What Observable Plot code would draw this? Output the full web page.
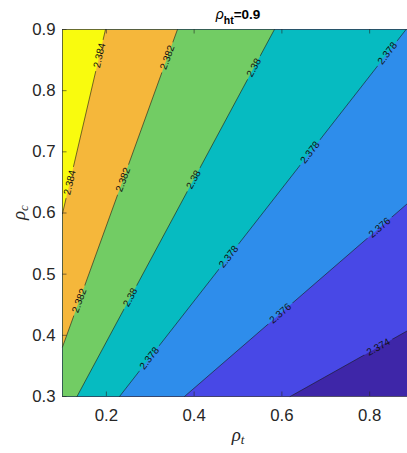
<!DOCTYPE html>
<html><head><meta charset="utf-8">
<script src="https://cdn.jsdelivr.net/npm/d3@7"></script>
<script src="https://cdn.jsdelivr.net/npm/@observablehq/plot@0.6"></script>
<style>
html,body{margin:0;padding:0;background:#fff;overflow:hidden;width:407px;height:453px;}
#chart svg{max-width:none !important;display:block;}
</style></head><body><div id="chart"></div>
<script>
// ---- data ----
const xDomain = [0.1, 0.9];
const yDomain = [0.3, 0.9];
const xTicks = [0.2, 0.4, 0.6, 0.8];
const yTicks = [0.3, 0.4, 0.5, 0.6, 0.7, 0.8, 0.9];
const levels = [2.374, 2.376, 2.378, 2.380, 2.382, 2.384];
const lineStartX = [0.619, 0.378, 0.230, 0.133, 0.100, 0.100];
const lineStartY = [0.300, 0.300, 0.300, 0.300, 0.381, 0.599];
const lineEndX   = [0.900, 0.900, 0.883, 0.583, 0.362, 0.198];
const lineEndY   = [0.413, 0.624, 0.900, 0.900, 0.900, 0.900];
const labelAlong = [[0.715], [0.419, 0.852], [0.104, 0.381, 0.665, 0.935], [0.27, 0.591, 0.896], [0.146, 0.527, 0.912], [0.169, 0.859]];
const bandColors = ["#3E26A8", "#4848E6", "#2E8DEB", "#06BBC1", "#72CC64", "#F5B73B", "#F9FB0E"];
const titleParts = ["ρ", "ht", "=0.9"];
const xLabelParts = ["ρ", "t"];
const yLabelParts = ["ρ", "c"];

// ---- layout ----
const W = 420, H = 453, mL = 62, mR = 7, mT = 29, mB = 57;
const frameW = W - mL - mR, frameH = H - mT - mB;
const kx = frameW / (xDomain[1] - xDomain[0]);
const ky = frameH / (yDomain[1] - yDomain[0]);
const axisColor = "#262626";
const lineColor = "#1a1a1a";
const sans = "'Liberation Sans', Arial, Helvetica, sans-serif";
const serif = "'Liberation Serif', 'DejaVu Serif', serif";

// contour lines
const lineRows = levels.flatMap((level, i) => [
  {level, x: lineStartX[i], y: lineStartY[i]},
  {level, x: lineEndX[i], y: lineEndY[i]}
]);

// nested regions (value >= level): the side of each line that holds the top-left corner
const cornersCCW = [[xDomain[1], yDomain[1]], [xDomain[0], yDomain[1]], [xDomain[0], yDomain[0]]];
const regionRows = levels.flatMap((level, i) => {
  const sx = lineStartX[i], sy = lineStartY[i], ex = lineEndX[i], ey = lineEndY[i];
  const dx = ex - sx, dy = ey - sy;
  const pts = [[sx, sy], [ex, ey]];
  for (const [cx, cy] of cornersCCW) {
    if (dx * (cy - sy) - dy * (cx - sx) > 0) pts.push([cx, cy]);
  }
  return pts.map(([x, y]) => ({level, x, y}));
});

// labels on the lines
const labelRows = levels.flatMap((level, i) => {
  const sx = lineStartX[i], sy = lineStartY[i], ex = lineEndX[i], ey = lineEndY[i];
  const angle = Math.atan2(-(ey - sy) * ky, (ex - sx) * kx) * 180 / Math.PI;
  return labelAlong[i].map(t => ({
    level, x: sx + t * (ex - sx), y: sy + t * (ey - sy), angle,
    text: String(+level.toFixed(3))
  }));
});

const titleStr = titleParts.join(""), xLabStr = xLabelParts.join(""), yLabStr = yLabelParts.join("");

const chart = Plot.plot({
  width: W, height: H,
  marginLeft: mL, marginRight: mR, marginTop: mT, marginBottom: mB,
  x: {domain: xDomain},
  y: {domain: yDomain},
  color: {type: "ordinal", domain: levels, range: bandColors.slice(1)},
  style: {fontFamily: sans, fontSize: "16.8px", color: axisColor, background: "white"},
  marks: [
    Plot.frame({fill: bandColors[0], stroke: "none"}),
    Plot.line(regionRows, {x: "x", y: "y", z: "level", fill: "level", stroke: "none", curve: "linear-closed"}),
    Plot.line(lineRows, {x: "x", y: "y", z: "level", stroke: lineColor, strokeWidth: 0.6}),
    Plot.text(labelRows, {x: "x", y: "y", text: "text", rotate: "angle", fontSize: 10, fontFamily: sans, fill: "#111"}),
    Plot.frame({stroke: axisColor, strokeWidth: 0.6}),
    Plot.tickX(xTicks, {x: d => d, insetTop: frameH - 4.5, stroke: axisColor, strokeWidth: 0.6}),
    Plot.tickX(xTicks, {x: d => d, insetBottom: frameH - 4.5, stroke: axisColor, strokeWidth: 0.6}),
    Plot.tickY(yTicks, {y: d => d, insetRight: frameW - 4.5, stroke: axisColor, strokeWidth: 0.6}),
    Plot.axisX(xTicks, {tickSize: 0, tickPadding: 13, label: null, tickFormat: d3.format(".1f"), fill: axisColor}),
    Plot.axisY(yTicks, {tickSize: 0, tickPadding: 7, label: null, tickFormat: d3.format(".1f"), fill: axisColor}),
    Plot.text([titleStr], {frameAnchor: "top", dy: -10.5, lineAnchor: "bottom", fill: "#000"}),
    Plot.text([xLabStr], {frameAnchor: "bottom", dy: 44, lineAnchor: "bottom", fill: axisColor}),
    Plot.text([yLabStr], {frameAnchor: "left", dx: -38, dy: 7, rotate: -90, lineAnchor: "bottom", fill: axisColor})
  ]
});

const ns = "http://www.w3.org/2000/svg";
const allTexts = Array.from(chart.querySelectorAll("text"));
function rebuild(str, parts, opts) {
  const t = allTexts.find(e => e.textContent === str);
  if (!t) return;
  t.textContent = "";
  const a = document.createElementNS(ns, "tspan");
  a.textContent = parts[0];
  a.setAttribute("font-style", "italic");
  a.setAttribute("font-family", opts.symFont);
  a.setAttribute("font-size", opts.symSize);
  a.setAttribute("font-weight", "normal");
  const b = document.createElementNS(ns, "tspan");
  b.textContent = parts[1];
  b.setAttribute("font-size", opts.subSize);
  b.setAttribute("dy", opts.subShift);
  b.setAttribute("font-family", opts.subFont);
  if (opts.subItalic) b.setAttribute("font-style", "italic");
  if (opts.bold) b.setAttribute("font-weight", "bold");
  t.append(a, b);
  if (parts[2]) {
    const c = document.createElementNS(ns, "tspan");
    c.textContent = parts[2];
    c.setAttribute("dy", -opts.subShift);
    c.setAttribute("font-size", opts.restSize);
    c.setAttribute("font-weight", "bold");
    c.setAttribute("font-family", sans);
    t.append(c);
  }
}
rebuild(titleStr, titleParts, {symFont: sans, symSize: 14, subSize: 10.5, subShift: 4.5, subFont: sans, bold: true, restSize: 13.5});
rebuild(xLabStr, xLabelParts, {symFont: serif, symSize: 19, subSize: 13, subShift: 3.5, subFont: serif, subItalic: true});
rebuild(yLabStr, yLabelParts, {symFont: serif, symSize: 19, subSize: 13, subShift: 3.5, subFont: serif, subItalic: true});

// break the contour lines under their labels, as MATLAB's clabel does
const lineG = chart.querySelector(`g[stroke="${lineColor}"]`);
if (lineG) {
  const sx = chart.scale("x"), sy = chart.scale("y");
  const X = v => (sx && sx.apply) ? sx.apply(v) : mL + (v - xDomain[0]) * kx;
  const Y = v => (sy && sy.apply) ? sy.apply(v) : mT + (yDomain[1] - v) * ky;
  const mask = document.createElementNS(ns, "mask");
  mask.setAttribute("id", "label-gaps");
  mask.setAttribute("maskUnits", "userSpaceOnUse");
  mask.setAttribute("x", 0); mask.setAttribute("y", 0);
  mask.setAttribute("width", W); mask.setAttribute("height", H);
  const bg = document.createElementNS(ns, "rect");
  bg.setAttribute("width", W); bg.setAttribute("height", H); bg.setAttribute("fill", "white");
  mask.append(bg);
  for (const d of labelRows) {
    const w = d.text.length * 5.4 + 5, h = 10;
    const r = document.createElementNS(ns, "rect");
    r.setAttribute("x", -w / 2); r.setAttribute("y", -h / 2);
    r.setAttribute("width", w); r.setAttribute("height", h);
    r.setAttribute("fill", "black");
    r.setAttribute("transform", `translate(${X(d.x)},${Y(d.y)}) rotate(${d.angle})`);
    mask.append(r);
  }
  const defs = document.createElementNS(ns, "defs");
  defs.append(mask);
  chart.insertBefore(defs, chart.firstChild);
  lineG.setAttribute("mask", "url(#label-gaps)");
}
chart.style.maxWidth = "none";
document.getElementById("chart").append(chart);
</script></body></html>
